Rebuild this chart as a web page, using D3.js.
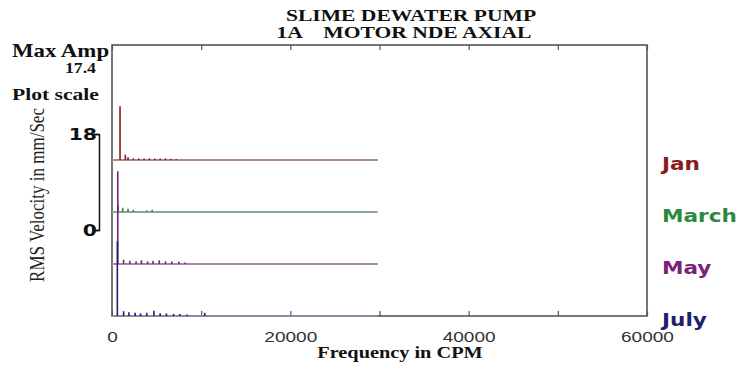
<!DOCTYPE html>
<html>
<head>
<meta charset="utf-8">
<script src="https://cdn.jsdelivr.net/npm/d3@7"></script>
<style>
body { margin: 0; background: #fff; }
svg { display: block; }
</style>
</head>
<body>
<div id="chart"></div>
<script>
// spectrum data, one list of [cpm, mm/s] peaks per month
var months = ["Jan", "March", "May", "July"];
var monthColors = ["#8b1a1a", "#2a8a3c", "#7b1f7b", "#1f1f6e"];
var maxCpm = [29800, 29800, 29800, 29800];

var janPeaks = [[900, 10.1], [1500, 1.0], [1800, 0.5], [2400, 0.3], [3000, 0.3], [3600, 0.3],
    [4200, 0.3], [4800, 0.3], [5400, 0.3], [6000, 0.3], [6600, 0.25], [7200, 0.2]];
var marchPeaks = [[700, 1.2], [1200, 0.8], [1800, 0.6], [2400, 0.4], [3900, 0.3], [4500, 0.4]];
var mayPeaks = [[650, 17.4], [1300, 0.8], [2000, 0.6], [2700, 0.5], [3300, 0.7], [4000, 0.5],
    [4600, 0.6], [5300, 0.7], [6000, 0.5], [6700, 0.5], [7500, 0.4], [8200, 0.3]];
var julyPeaks = [[600, 14], [1300, 0.9], [1900, 0.7], [2600, 0.6], [3200, 0.5], [3900, 0.6],
    [4700, 1.0], [5400, 0.5], [6100, 0.5], [6900, 0.4], [7600, 0.4], [8400, 0.3], [10400, 0.6]];
var allPeaks = [janPeaks, marchPeaks, mayPeaks, julyPeaks];

var xTicks = [0, 10000, 20000, 30000, 40000, 50000, 60000];
var xLabels = [0, 20000, 40000, 60000];
var scaleTicks = [0, 18];
var maxAmp = "17.4";

var W = 739, H = 369;
var margin = { top: 45, right: 92, bottom: 53, left: 112 };
var width = W - margin.left - margin.right;
var height = H - margin.top - margin.bottom;
var stretch = "scale(1.27,1)"; // the original picture is widened

var svg = d3.select("#chart").append("svg")
    .attr("width", W)
    .attr("height", H);

var x = d3.scaleLinear().domain([0, 60000]).range([0, width]);
var yAmp = d3.scaleLinear().domain([0, 18]).range([0, 96]);
var yBase = d3.scalePoint().domain(months).range([115, height]);

// titles
function addText(px, py, txt, size, family, weight, anchor, fill) {
    return svg.append("text")
        .attr("transform", "translate(" + px + "," + py + ") " + stretch)
        .attr("text-anchor", anchor)
        .style("font-family", family)
        .style("font-size", size + "px")
        .style("font-weight", weight)
        .style("white-space", "pre")
        .attr("fill", fill || "#111")
        .text(txt);
}
var serif = "'Liberation Serif', 'Times New Roman', serif";
addText(411, 21, "SLIME DEWATER PUMP", 17, serif, "bold", "middle");
addText(404, 38, "1A    MOTOR NDE AXIAL", 17, serif, "bold", "middle");
addText(12, 57, "Max Amp", 18, serif, "bold", "start");
addText(96, 73, maxAmp, 14, serif, "bold", "end");
addText(12, 100, "Plot scale", 17, serif, "bold", "start");
addText(400, 358, "Frequency in CPM", 16, serif, "bold", "middle");

svg.append("text")
    .attr("transform", "translate(44,195) " + stretch + " rotate(-90)")
    .attr("text-anchor", "middle")
    .style("font-family", serif)
    .style("font-size", "17px")
    .attr("fill", "#222")
    .text("RMS Velocity in mm/Sec");

// plot scale bar
var scaleY = d3.scaleLinear().domain([0, 18]).range([230, 230 - yAmp(18)]);
var scaleAxis = svg.append("g")
    .attr("class", "scale-bar")
    .attr("transform", "translate(99,0)")
    .call(d3.axisLeft(scaleY).tickValues(scaleTicks).tickSize(6));
scaleAxis.select(".domain")
    .attr("stroke", "#111")
    .attr("stroke-width", 1.5)
    .attr("fill", "none");
scaleAxis.selectAll(".tick line").attr("stroke", "#111").attr("stroke-width", 1.5);
scaleAxis.selectAll(".tick text")
    .attr("x", 0)
    .attr("transform", "translate(-2,0) " + stretch)
    .style("font-family", "'DejaVu Sans', sans-serif")
    .style("font-weight", "bold")
    .style("font-size", "16px")
    .attr("fill", "#111");

var g = svg.append("g")
    .attr("transform", "translate(" + margin.left + "," + margin.top + ")");

// frame
g.append("rect")
    .attr("width", width)
    .attr("height", height)
    .attr("fill", "none")
    .attr("stroke", "#4a4a4a")
    .attr("stroke-width", 1.5);

g.append("g")
    .attr("class", "x-top")
    .call(d3.axisTop(x).tickValues(xTicks).tickSizeInner(-5).tickSizeOuter(0).tickFormat(""))
    .call(a => a.select(".domain").remove())
    .selectAll(".tick line").attr("stroke", "#555").attr("stroke-width", 1.2);

var xAxis = g.append("g")
    .attr("class", "x-axis")
    .attr("transform", "translate(0," + height + ")")
    .call(d3.axisBottom(x).tickValues(xTicks).tickSizeInner(-5).tickSizeOuter(0).tickPadding(15)
        .tickFormat(d => xLabels.indexOf(d) >= 0 ? d : ""));
xAxis.select(".domain").remove();
xAxis.selectAll(".tick line").attr("stroke", "#555").attr("stroke-width", 1.2);
xAxis.selectAll(".tick text")
    .attr("transform", stretch)
    .style("font-family", "'Liberation Sans', Arial, sans-serif")
    .style("font-size", "15px")
    .attr("fill", "#333");

// traces
months.forEach(function (m, i) {
    var col = monthColors[i];
    var tr = g.append("g")
        .attr("class", "trace")
        .attr("transform", "translate(0," + yBase(m) + ")");
    tr.append("line")
        .attr("x1", x(0)).attr("x2", x(maxCpm[i]))
        .attr("y1", 0).attr("y2", 0)
        .attr("stroke", d3.interpolateRgb(col, "#b4b4b4")(0.72))
        .attr("stroke-width", 2.2);
    tr.selectAll(".peak")
        .data(allPeaks[i])
        .join("line")
        .attr("class", "peak")
        .attr("x1", d => x(d[0])).attr("x2", d => x(d[0]))
        .attr("y1", 0).attr("y2", d => -yAmp(d[1]))
        .attr("stroke", col)
        .attr("stroke-width", 1.6);

    addText(662, margin.top + yBase(m) + 10, m, 17, "'DejaVu Sans', sans-serif", "bold", "start", col);
});
</script>
</body>
</html>
